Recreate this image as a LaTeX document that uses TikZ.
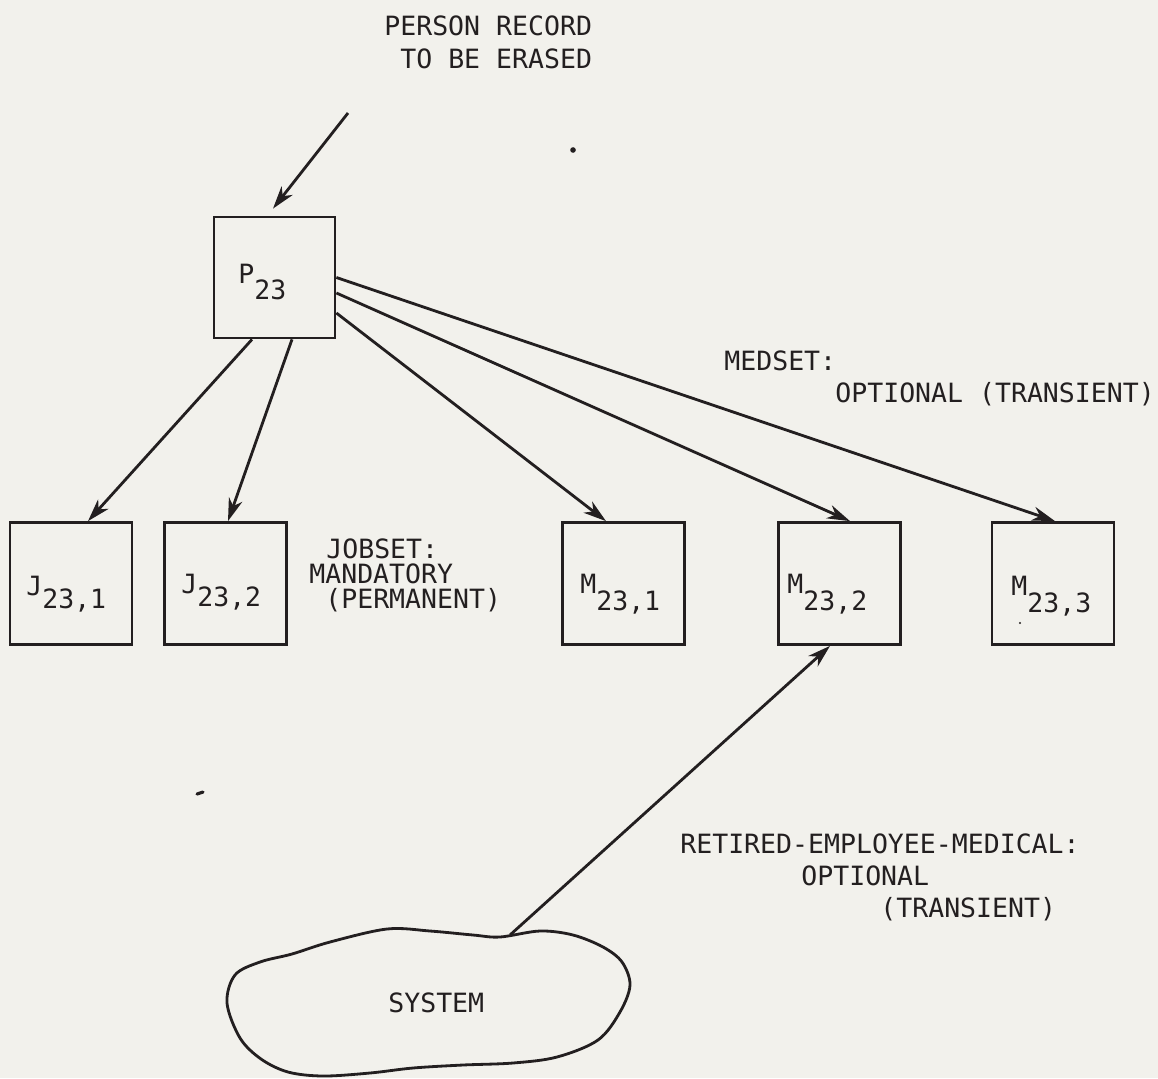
\documentclass[tikz,border=0pt]{standalone}
\usepackage{fontspec}
\newfontfamily\typewriter{DejaVu Sans Mono}
\usetikzlibrary{arrows.meta,calc}
\definecolor{paper}{RGB}{242,241,236}
\definecolor{ink}{RGB}{35,31,32}
% record name with a lowered index
\newcommand\recname[3]{#1\raisebox{#2}{#3}}
\begin{document}
\begin{tikzpicture}[x=0.02cm,y=-0.02cm,
  every node/.style={font=\typewriter\fontsize{15.1}{18}\selectfont, text=ink, inner sep=0pt},
  recbox/.style={draw=ink, line width=1.6pt, minimum width=2.44cm, minimum height=2.44cm},
  link/.style={draw=ink, line width=1.6pt, -{Stealth[length=13pt,width=8pt,inset=4pt]}},
  txt/.style={anchor=base west}]
% paper
\fill[paper] (0,0) rectangle (1158,1078);
\useasboundingbox (0,0) rectangle (1158,1078);

% owner record and member records
\node[recbox, minimum width=2.42cm, minimum height=2.42cm] (P) at (274.5,277.5) {};
\node[recbox] (j1) at (71,583.5) {};
\node[recbox] (j2) at (225.5,583.5) {};
\node[recbox] (m1) at (623.5,583.5) {};
\node[recbox] (m2) at (839.5,583.5) {};
\node[recbox] (m3) at (1053,583.5) {};

% record names
\node[txt] (lP)  at (238,283)  {\recname{P}{-9.5pt}{23}};
\node[txt] (lj1) at (26,595)   {\recname{J}{-7.5pt}{23,1}};
\node[txt] (lj2) at (181,593)  {\recname{J}{-7.5pt}{23,2}};
\node[txt] (lm1) at (580,593)  {\recname{M}{-10pt}{23,1}};
\node[txt] (lm2) at (787,593)  {\recname{M}{-10pt}{23,2}};
\node[txt] (lm3) at (1011,595) {\recname{M}{-10pt}{23,3}};

% annotations
\node[txt] (t1) at (384,36) {PERSON RECORD};
\node[txt] (t2) at (400,69) {TO BE ERASED};
\node[txt] (med1) at (724,370) {MEDSET:};
\node[txt] (med2) at (835,402) {OPTIONAL (TRANSIENT)};
\node[txt] (job1) at (326,558) {JOBSET:};
\node[txt] (job2) at (309,583) {MANDATORY};
\node[txt] (job3) at (325,608) {(PERMANENT)};
\node[txt] (ret1) at (680,853) {RETIRED-EMPLOYEE-MEDICAL:};
\node[txt] (ret2) at (801,885) {OPTIONAL};
\node[txt] (ret3) at (880,917) {(TRANSIENT)};

% the system cloud
\draw[ink, line width=1.6pt] plot[smooth cycle, tension=0.55] coordinates {
  (227,1003) (235,975) (260,962) (292,954) (330,942) (387,929) (430,931)
  (473,935) (500,937) (540,931) (573,935) (603,947) (622,962) (630,985)
  (620,1012) (598,1040) (557,1057) (513,1063) (463,1065) (413,1068)
  (370,1073) (323,1076) (288,1072) (261,1059) (240,1038)};
\node[txt] (sys) at (388,1012) {SYSTEM};
\coordinate (systail) at (510,935);
\coordinate (erase) at (348,113);

% connectors
\draw[link] (erase) -- ($(P.north)+(-1.5,-7)$);
\draw[link] ($(P.south)+(-22.5,0)$) -- ($(j1.north)+(17,0)$);
\draw[link] ($(P.south)+(17.5,0)$) -- ($(j2.north)+(2.5,0)$);
\draw[link] ($(P.east)+(0,35.5)$) -- ($(m1.north)+(-17.5,0)$);
\draw[link] ($(P.east)+(0,15.5)$) -- ($(m2.north)+(10.5,0)$);
\draw[link] (P.east) -- ($(m3.north)+(2,0)$);
\draw[link] (systail) -- ($(m2.south)+(-9.5,0)$);

% specks on the sheet
\fill[ink] (573,150) circle (1.6pt);
\draw[ink, line width=1.8pt, line cap=round] (197,794) -- (203,792);
\fill[ink] (1020,623) circle (0.6pt);
\end{tikzpicture}
\end{document}
